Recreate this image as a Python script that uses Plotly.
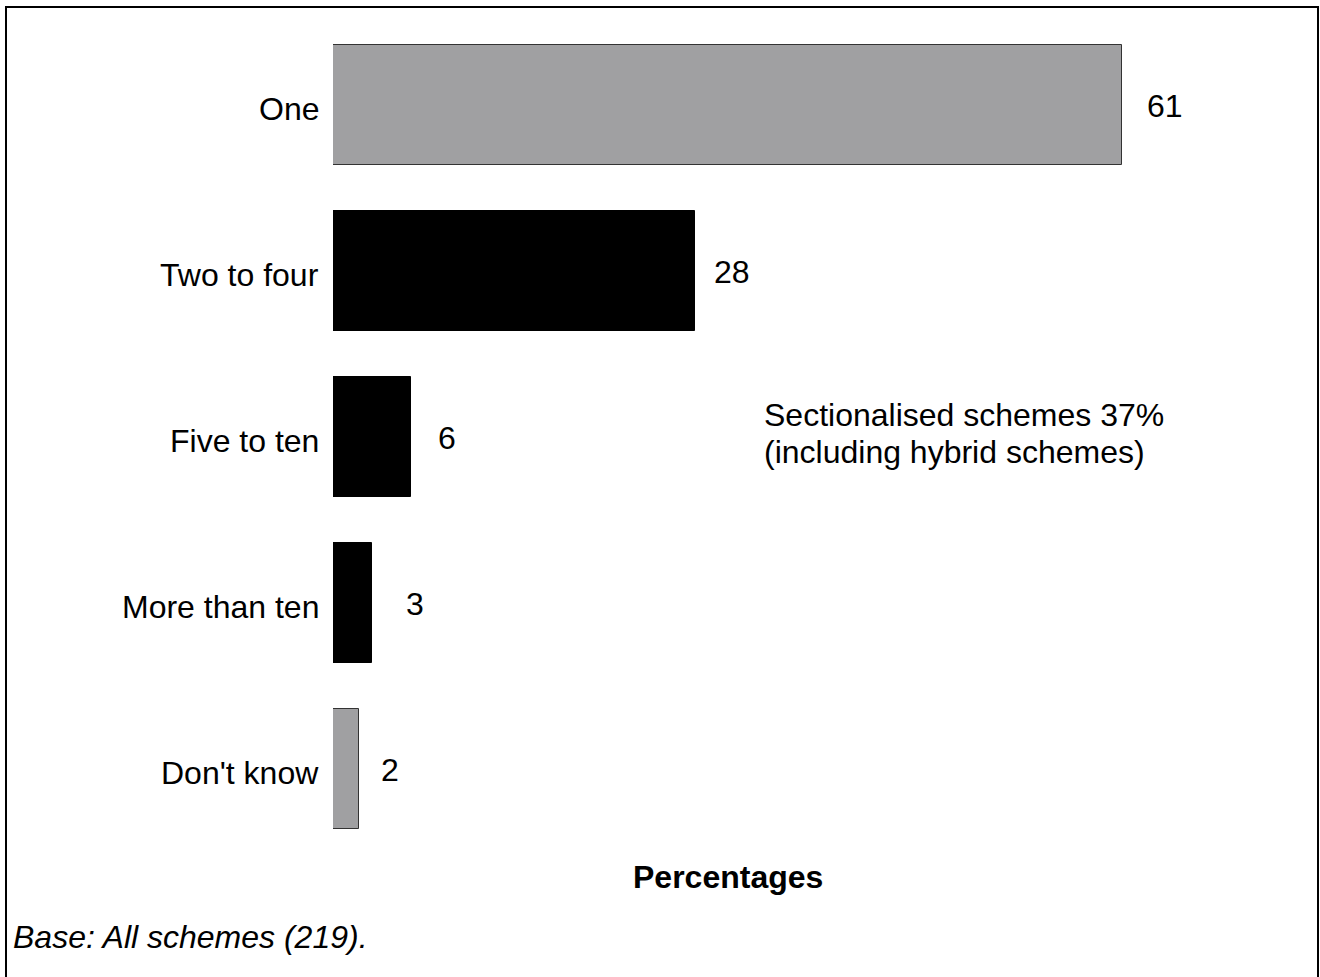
import plotly.graph_objects as go

# Number of sections per scheme (percentages)
categories = ["One", "Two to four", "Five to ten", "More than ten", "Don't know"]
values = [61, 28, 6, 3, 2]
bar_colors = ["#a0a0a2", "#000000", "#000000", "#000000", "#a0a0a2"]
line_colors = ["#333333", "#000000", "#000000", "#000000", "#333333"]
label_gap_px = [23, 17, 25, 32, 20]

note_lines = ["Sectionalised schemes 37%", "(including hybrid schemes)"]
axis_title = "Percentages"
base_note = "Base: All schemes (219)."

W, H = 1320, 977
M_L, M_R, M_T, M_B = 333, 198, 22, 125
FONT = "Liberation Sans, Arial, sans-serif"
FS = 32


def px_x(px):
    return (px - M_L) / (W - M_L - M_R)


def px_y(py):
    return 1 - (py - M_T) / (H - M_T - M_B)


fig = go.Figure(
    go.Bar(
        x=values,
        y=categories,
        orientation="h",
        width=0.717,
        marker=dict(color=bar_colors, line=dict(color=line_colors, width=1)),
        hoverinfo="skip",
    )
)

text_font = dict(family=FONT, size=FS, color="#000000")
annotations = []

# category names to the left of the bars
for cat in categories:
    annotations.append(dict(
        x=0, y=cat, xref="x", yref="y", text=cat, showarrow=False,
        xanchor="right", yanchor="middle", xshift=-12, yshift=-4,
        font=text_font,
    ))

# value labels to the right of the bars
for cat, val, gap in zip(categories, values, label_gap_px):
    annotations.append(dict(
        x=val, y=cat, xref="x", yref="y", text=str(val), showarrow=False,
        xanchor="left", yanchor="middle", xshift=gap, yshift=-1,
        font=text_font,
    ))

for i, line in enumerate(note_lines):
    annotations.append(dict(
        x=px_x(762), y=px_y(415 + 37 * i), xref="paper", yref="paper",
        text=line, showarrow=False, xanchor="left", yanchor="middle",
        font=text_font,
    ))

annotations.append(dict(
    x=0.5, y=px_y(877), xref="x domain", yref="paper",
    text="<b>" + axis_title + "</b>", showarrow=False,
    xanchor="center", yanchor="middle", font=text_font,
))

annotations.append(dict(
    x=px_x(11), y=px_y(937), xref="paper", yref="paper",
    text="<i>" + base_note + "</i>", showarrow=False,
    xanchor="left", yanchor="middle", font=text_font,
))

fig.update_layout(
    width=W, height=H,
    margin=dict(l=M_L, r=M_R, t=M_T, b=M_B, autoexpand=False),
    paper_bgcolor="#ffffff", plot_bgcolor="#ffffff",
    showlegend=False,
    bargap=0,
    annotations=annotations,
    shapes=[dict(
        type="rect", xref="paper", yref="paper",
        x0=px_x(6), x1=px_x(1318), y0=px_y(7), y1=px_y(990),
        line=dict(color="#000000", width=2), fillcolor="rgba(0,0,0,0)",
        layer="above",
    )],
    font=text_font,
)

fig.update_xaxes(
    range=[0, 61], showgrid=False, zeroline=False, showline=False,
    showticklabels=False, ticks="", fixedrange=True,
)
fig.update_yaxes(
    autorange="reversed", showgrid=False, zeroline=False, showline=False,
    showticklabels=False, ticks="", fixedrange=True,
)

fig.write_html("out.html", config=dict(displayModeBar=False))
